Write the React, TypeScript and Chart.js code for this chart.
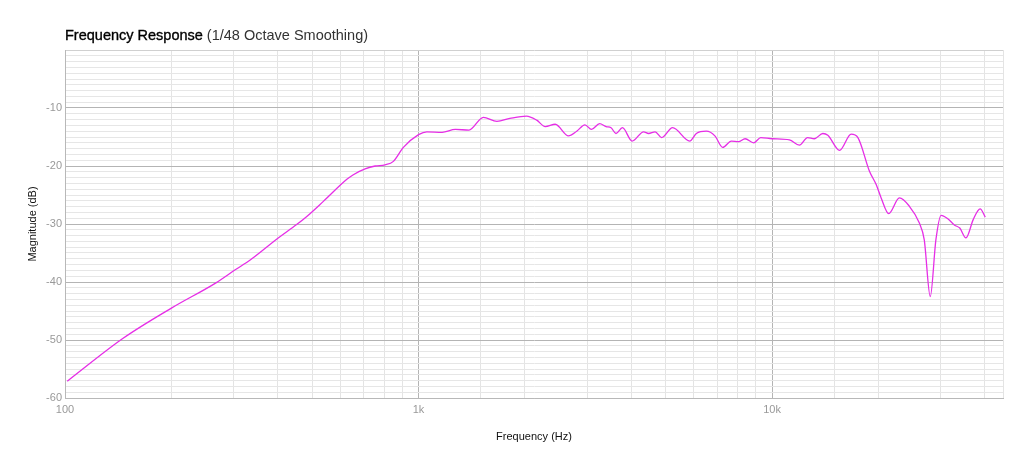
import React, { useEffect, useRef } from 'react';
import { Chart, registerables } from 'chart.js';
import type { ChartConfiguration, Plugin } from 'chart.js';

Chart.register(...registerables);

// Frequency points (Hz) and smoothed magnitude (dB).
const freqHz: number[] = [
  101.5, 146, 200, 268, 303, 334, 401, 452, 483, 538, 627, 654, 706, 754, 804, 849, 906,
  1000, 1056, 1166, 1271, 1389, 1525, 1666, 1813, 2020, 2159, 2283, 2436, 2655, 2802,
  2956, 3085, 3253, 3393, 3504, 3618, 3774, 4019, 4332, 4473, 4670, 4870, 5231, 5850,
  6107, 6516, 6890, 7250, 7670, 8035, 8390, 8870, 9290, 10000, 11200, 11950, 12600,
  13170, 13920, 14380, 15520, 16740, 17490, 18860, 19700, 20350, 21380, 22920, 24430,
  26080, 26940, 28020, 29070, 30070, 31410, 32840, 33960, 35350, 37090, 38770, 40100,
];

const magnitudeDb: number[] = [
  -57.1, -49.7, -44.5, -40.1, -37.9, -36.2, -32.4, -30.1, -28.7, -26.1, -22.3, -21.5, -20.5, -20.0, -19.8, -19.2, -16.8,
  -14.6, -14.1, -14.2, -13.7, -13.8, -11.6, -12.3, -11.8, -11.4, -12.1,
  -13.2, -12.8, -14.8, -14.0,
  -12.9, -13.7, -12.7, -13.2, -13.4, -14.4, -13.4, -15.7, -14.1, -14.4, -14.1, -15.1, -13.4, -15.7,
  -14.4, -14.0, -14.8, -16.8, -15.7, -15.8, -15.3, -16.0, -15.1, -15.3, -15.5, -16.4, -15.1,
  -15.3, -14.4, -14.7, -17.3, -14.5, -15.1, -20.9, -23.2, -25.5, -28.2, -25.5, -26.9,
  -29.8, -32.7, -42.5, -32.7, -28.5, -29.1, -30.2, -30.7, -32.4, -29.2, -27.4, -28.8,
];

const xLabels: Record<number, string> = { 100: '100', 1000: '1k', 10000: '10k' };
const yMajorStep = 10;

const FONT = "'Helvetica Neue', Helvetica, Arial, 'Liberation Sans', sans-serif";

// Title with a heavier lead phrase, drawn on the canvas above the plot area.
const titlePlugin: Plugin<'line'> = {
  id: 'splitTitle',
  afterDraw(chart) {
    const { ctx, chartArea } = chart;
    ctx.save();
    ctx.textBaseline = 'alphabetic';
    ctx.textAlign = 'left';
    ctx.font = `400 14.5px ${FONT}`;
    const lead = 'Frequency Response';
    ctx.fillStyle = '#000';
    ctx.strokeStyle = '#000';
    ctx.lineWidth = 0.35;
    ctx.fillText(lead, chartArea.left, 40);
    ctx.strokeText(lead, chartArea.left, 40);
    const w = ctx.measureText(lead).width;
    ctx.fillStyle = '#333';
    ctx.fillText(' (1/48 Octave Smoothing)', chartArea.left + w, 40);
    ctx.restore();
  },
};

export default function App() {
  const canvasRef = useRef<HTMLCanvasElement | null>(null);

  useEffect(() => {
    const canvas = canvasRef.current;
    if (!canvas) return;
    const ctx = canvas.getContext('2d');
    if (!ctx) return;

    const points = freqHz.map((f, i) => ({ x: f, y: magnitudeDb[i] }));

    const config: ChartConfiguration<'line'> = {
      type: 'line',
      data: {
        datasets: [
          {
            label: 'Magnitude',
            data: points,
            borderColor: '#e62ee6',
            borderWidth: 1.3,
            pointRadius: 0,
            tension: 0.35,
            cubicInterpolationMode: 'monotone',
          },
        ],
      },
      options: {
        animation: false,
        responsive: false,
        maintainAspectRatio: false,
        layout: { padding: { left: 22, right: 21, top: 50, bottom: 20 } },
        plugins: {
          legend: { display: false },
          tooltip: { enabled: false },
          title: { display: false },
        },
        scales: {
          x: {
            type: 'logarithmic',
            min: 100,
            max: 45000,
            afterFit: (s) => {
              s.height = 50;
            },
            border: { display: true, color: '#b8b8b8' },
            grid: {
              drawTicks: false,
              color: (c) => {
                const v = c.tick?.value;
                return v === 1000 || v === 10000 ? '#b4b4b4' : '#e4e4e4';
              },
            },
            ticks: {
              autoSkip: false,
              maxRotation: 0,
              padding: 5,
              color: '#999',
              font: { family: FONT, size: 11 },
              callback: (v) => xLabels[Number(v)] ?? '',
            },
            title: {
              display: true,
              text: 'Frequency (Hz)',
              color: '#111',
              font: { family: FONT, size: 11 },
            },
          },
          y: {
            min: -60,
            max: 0,
            afterFit: (s) => {
              s.width = 43;
            },
            border: { display: true, color: '#b8b8b8' },
            grid: {
              drawTicks: false,
              color: (c) => {
                const v = c.tick?.value ?? 0;
                if (v === 0) return '#d0d0d0';
                return v % yMajorStep === 0 ? '#b4b4b4' : '#e6e6e6';
              },
            },
            ticks: {
              stepSize: 1,
              autoSkip: false,
              padding: 3,
              color: '#999',
              font: { family: FONT, size: 11 },
              callback: (v) => {
                const n = Number(v);
                return n % yMajorStep === 0 && n !== 0 ? String(n) : '';
              },
            },
            title: {
              display: true,
              text: 'Magnitude (dB)',
              color: '#111',
              font: { family: FONT, size: 11 },
            },
          },
        },
      },
      plugins: [titlePlugin],
    };

    const chart = new Chart(ctx, config);
    return () => chart.destroy();
  }, []);

  return (
    <div style={{ position: 'fixed', left: 0, top: 0, width: 1024, height: 468, background: '#fff' }}>
      <canvas ref={canvasRef} width={1024} height={468} style={{ width: 1024, height: 468 }} />
    </div>
  );
}
